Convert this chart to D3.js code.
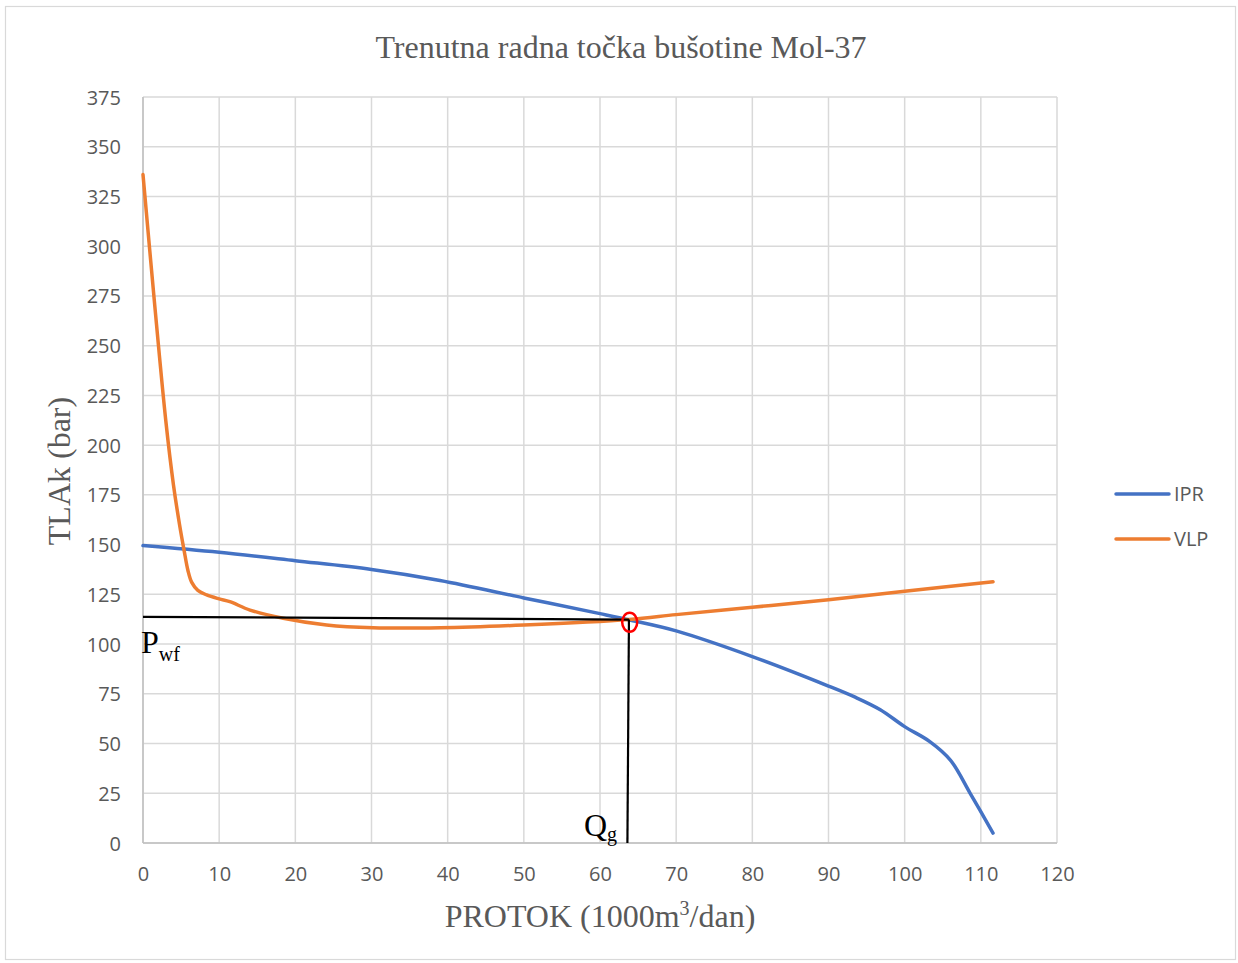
<!DOCTYPE html>
<html>
<head>
<meta charset="utf-8">
<script src="https://cdn.jsdelivr.net/npm/d3@7"></script>
<style>
body{margin:0;background:#fff;}
</style>
</head>
<body>
<div id="container"></div>
<script>
// podaci ocitani sa grafa
var x_ticks = [0,10,20,30,40,50,60,70,80,90,100,110,120];
var y_ticks = [0,25,50,75,100,125,150,175,200,225,250,275,300,325,350,375];

var ipr_q = [0,10,20,30,39,50,60,63.9,70,80,90,93.5,96.8,100,103.3,106,108.6,111.6];
var ipr_p = [149.5,146.1,141.9,137.5,132,123.2,115.3,112.1,106.6,93.7,78.9,73.3,67,58.5,51,41.7,25,5];

var vlp_q = [0,1.5,3,4,4.8,5.4,5.9,6.4,7.2,8.36,10,11.4,14.05,18.4,24.1,30.2,39,50,63.8,70,80,90,100,111.6];
var vlp_p = [336,272,212,180,160,147,137,131,127,124.7,122.7,121.3,117.1,113,109.6,108.2,108.2,109.6,112.4,114.8,118.5,122.3,126.5,131.3];

// radna tocka i pomocne linije
var pwf_line_q = [0,63.8];
var pwf_line_p = [113.7,112.3];
var qg_line_q = [63.8,63.6];
var qg_line_p = [112.3,0];
var radna_tocka = [63.9,111];

var series = [
	{name:'IPR', q:ipr_q, p:ipr_p, color:'#4472c4'},
	{name:'VLP', q:vlp_q, p:vlp_p, color:'#ed7d31'}
];

function zip(a,b){
	return a.map(function(v,i){ return [v,b[i]]; });
}

function generate_chart(){
	var W = 1238, H = 963;
	var svg = d3.select("#container").append("svg")
		.attr("width", W)
		.attr("height", H);

	// okvir
	svg.append("rect")
		.attr("x", 5.5).attr("y", 6.5)
		.attr("width", 1230).attr("height", 953)
		.attr("fill", "#fff")
		.attr("stroke", "#d9d9d9")
		.attr("stroke-width", 1.2);

	var x = d3.scaleLinear().domain([0,120]).range([143,1057]);
	var y = d3.scaleLinear().domain([0,375]).range([843,97]);

	var g = svg.append("g");

	// mreza
	g.selectAll("line.vgrid")
		.data(x_ticks)
		.enter().append("line")
		.attr("x1", function(d){ return x(d); })
		.attr("x2", function(d){ return x(d); })
		.attr("y1", y(0)).attr("y2", y(375))
		.attr("stroke", "#d9d9d9")
		.attr("stroke-width", 1.5);

	g.selectAll("line.hgrid")
		.data(y_ticks)
		.enter().append("line")
		.attr("x1", x(0)).attr("x2", x(120))
		.attr("y1", function(d){ return y(d); })
		.attr("y2", function(d){ return y(d); })
		.attr("stroke", "#d9d9d9")
		.attr("stroke-width", 1.5);

	// osi
	g.append("line")
		.attr("x1", x(0)).attr("x2", x(0))
		.attr("y1", y(0)).attr("y2", y(375))
		.attr("stroke", "#bfbfbf").attr("stroke-width", 1.5);
	g.append("line")
		.attr("x1", x(0)).attr("x2", x(120))
		.attr("y1", y(0)).attr("y2", y(0))
		.attr("stroke", "#bfbfbf").attr("stroke-width", 1.5);

	var xAxis = d3.axisBottom(x).tickValues(x_ticks).tickSize(0).tickPadding(24);
	var gx = svg.append("g").attr("transform", "translate(0," + y(0) + ")").call(xAxis);
	var yAxis = d3.axisLeft(y).tickValues(y_ticks).tickSize(0).tickPadding(22);
	var gy = svg.append("g").attr("transform", "translate(" + x(0) + ",0)").call(yAxis);

	[gx, gy].forEach(function(a){
		a.select(".domain").remove();
		a.selectAll("text")
			.attr("fill", "#595959")
			.style("font-family", "'Open Sans', 'Liberation Sans', sans-serif")
			.style("font-size", "20px");
	});
	gy.selectAll("text").attr("dy", "0.35em");
	gx.selectAll("text").attr("dy", "0.71em");

	// krivulje
	var line = d3.line()
		.x(function(d){ return x(d[0]); })
		.y(function(d){ return y(d[1]); })
		.curve(d3.curveCatmullRom.alpha(0.5));

	series.forEach(function(s){
		svg.append("path")
			.datum(zip(s.q, s.p))
			.attr("d", line)
			.attr("fill", "none")
			.attr("stroke", s.color)
			.attr("stroke-width", 3.5)
			.attr("stroke-linecap", "round")
			.attr("stroke-linejoin", "round");
	});

	// pomocne linije
	var straight = d3.line()
		.x(function(d){ return x(d[0]); })
		.y(function(d){ return y(d[1]); });
	svg.append("path")
		.datum(zip(pwf_line_q, pwf_line_p))
		.attr("d", straight)
		.attr("fill", "none").attr("stroke", "#000").attr("stroke-width", 2.2);
	svg.append("path")
		.datum(zip(qg_line_q, qg_line_p))
		.attr("d", straight)
		.attr("fill", "none").attr("stroke", "#000").attr("stroke-width", 2.2);

	// radna tocka
	svg.append("ellipse")
		.attr("cx", x(radna_tocka[0]))
		.attr("cy", y(radna_tocka[1]))
		.attr("rx", 7.5).attr("ry", 9.5)
		.attr("fill", "none")
		.attr("stroke", "#ff0000")
		.attr("stroke-width", 2.5);

	var serif = "'Liberation Serif', 'DejaVu Serif', serif";

	// oznake Pwf i Qg
	var pwf = svg.append("text")
		.attr("x", x(0) - 2).attr("y", 653)
		.style("font-family", serif).style("font-size", "32px").attr("fill", "#000");
	pwf.append("tspan").text("P");
	pwf.append("tspan").attr("dy", 8).style("font-size", "20px").text("wf");

	var qg = svg.append("text")
		.attr("x", 584).attr("y", 836)
		.style("font-family", serif).style("font-size", "32px").attr("fill", "#000");
	qg.append("tspan").text("Q");
	qg.append("tspan").attr("dy", 5).style("font-size", "20px").text("g");

	// naslovi
	svg.append("text")
		.attr("x", 621).attr("y", 58)
		.attr("text-anchor", "middle")
		.style("font-family", serif).style("font-size", "32px")
		.attr("fill", "#595959")
		.text("Trenutna radna točka bušotine Mol-37");

	var xt = svg.append("text")
		.attr("x", 600).attr("y", 927)
		.attr("text-anchor", "middle")
		.style("font-family", serif).style("font-size", "32px")
		.attr("fill", "#595959");
	xt.append("tspan").text("PROTOK (1000m");
	xt.append("tspan").attr("dy", -12).style("font-size", "20px").text("3");
	xt.append("tspan").attr("dy", 12).text("/dan)");

	svg.append("text")
		.attr("transform", "translate(70,471) rotate(-90)")
		.attr("text-anchor", "middle")
		.style("font-family", serif).style("font-size", "32px")
		.attr("fill", "#595959")
		.text("TLAk (bar)");

	// legenda
	var leg = svg.selectAll("g.leg")
		.data(series)
		.enter().append("g")
		.attr("transform", function(d,i){ return "translate(1116," + (494 + i*45) + ")"; });
	leg.append("line")
		.attr("x1", 0).attr("x2", 53)
		.attr("stroke", function(d){ return d.color; })
		.attr("stroke-width", 3.5)
		.attr("stroke-linecap", "round");
	leg.append("text")
		.attr("x", 58).attr("dy", "0.35em")
		.style("font-family", "'Open Sans', 'Liberation Sans', sans-serif")
		.style("font-size", "20px")
		.attr("fill", "#595959")
		.text(function(d){ return d.name; });
}

generate_chart();
</script>
</body>
</html>
